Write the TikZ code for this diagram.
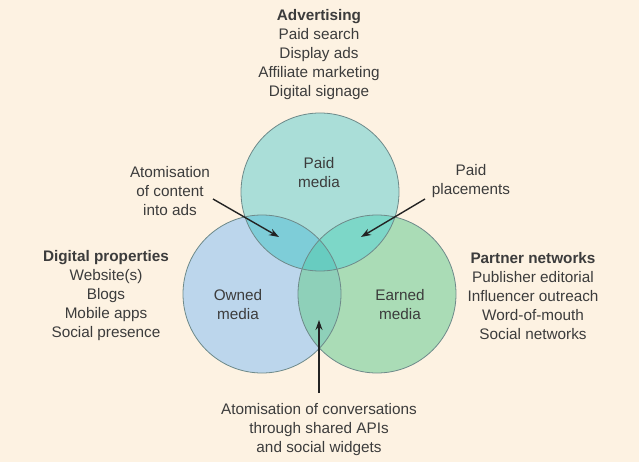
\documentclass[tikz,border=0pt]{standalone}
\usepackage{fontspec}
\setmainfont{Liberation Sans}
\usetikzlibrary{arrows.meta}
\definecolor{bg}{RGB}{253,242,226}
\definecolor{paidc}{RGB}{170,222,216}
\definecolor{ownedc}{RGB}{188,214,236}
\definecolor{earnedc}{RGB}{170,220,182}
\definecolor{poc}{RGB}{126,205,216}
\definecolor{pec}{RGB}{125,215,200}
\definecolor{oec}{RGB}{142,208,185}
\definecolor{allc}{RGB}{104,204,192}
\definecolor{edge}{RGB}{110,138,138}
\definecolor{txt}{RGB}{60,60,60}
\definecolor{arr}{RGB}{35,35,35}
\begin{document}
\begin{tikzpicture}[x=1pt,y=-1pt,
  circ/.style={circle,minimum size=158pt,inner sep=0pt},
  lbl/.style={align=center,text=txt,font=\fontsize{15.3}{19}\selectfont,inner sep=0pt},
  arrow/.style={draw=arr,line width=1.4pt,-{Stealth[length=10pt,width=7pt]}}]
\fill[bg] (0,0) rectangle (639,462);
\useasboundingbox (0,0) rectangle (639,462);
\coordinate (P) at (320,192);
\coordinate (O) at (262,294);
\coordinate (E) at (377,294);
\def\R{79}
% fills
\fill[paidc] (P) circle (\R);
\fill[ownedc] (O) circle (\R);
\fill[earnedc] (E) circle (\R);
\begin{scope}\clip (P) circle (\R); \fill[poc] (O) circle (\R); \fill[pec] (E) circle (\R);\end{scope}
\begin{scope}\clip (O) circle (\R); \fill[oec] (E) circle (\R);
  \clip (E) circle (\R); \fill[allc] (P) circle (\R);\end{scope}
% outlines
\node[circ,draw=edge,line width=0.8pt] (paid) at (P) {};
\node[circ,draw=edge,line width=0.8pt] (owned) at (O) {};
\node[circ,draw=edge,line width=0.8pt] (earned) at (E) {};
% circle labels
\node[lbl] (paidt) at (319,172.5) {Paid\\media};
\node[lbl] (ownedt) at (238,304.5) {Owned\\media};
\node[lbl] (earnedt) at (400,304.5) {Earned\\media};
% outer labels
\node[lbl] (adv) at (319,55) {{\bfseries Advertising}\\Paid search\\Display ads\\Affiliate marketing\\Digital signage};
\node[lbl] (digi) at (106,296) {{\bfseries Digital properties}\\Website(s)\\Blogs\\Mobile apps\\Social presence};
\node[lbl] (part) at (533,296) {{\bfseries Partner networks}\\Publisher editorial\\Influencer outreach\\Word-of-mouth\\Social networks};
\node[lbl] (atomc) at (170,191) {Atomisation\\of content\\into ads};
\node[lbl] (place) at (471,181.5) {Paid\\placements};
\node[lbl] (atomv) at (319,429.5) {Atomisation of conversations\\through shared APIs\\and social widgets};
% arrows
\coordinate (a1s) at (213,199);
\coordinate (a1e) at (279,237);
\coordinate (a2s) at (425,199);
\coordinate (a2e) at (361,237);
\coordinate (a3s) at (319,393);
\coordinate (a3e) at (319,320);
\draw[arrow] (a1s) -- (a1e);
\draw[arrow] (a2s) -- (a2e);
\draw[arrow] (a3s) -- (a3e);
\end{tikzpicture}
\end{document}
